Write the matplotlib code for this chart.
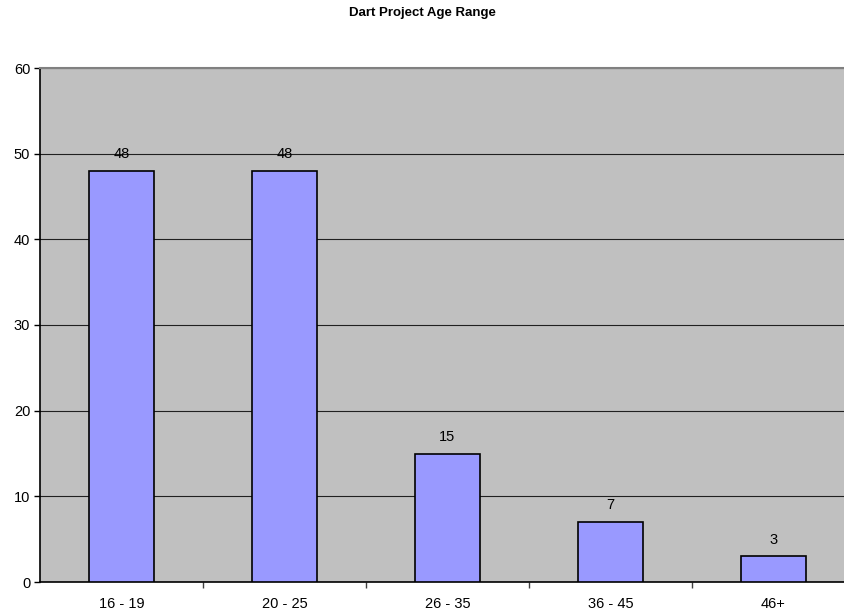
import matplotlib.pyplot as plt

plt.rcParams["font.family"] = ["Liberation Sans", "DejaVu Sans"]

# Daten
categories = ["16 - 19", "20 - 25", "26 - 35", "36 - 45", "46+"]
counts = [48, 48, 15, 7, 3]

W, H = 845, 615
fig = plt.figure(figsize=(W / 100, H / 100), dpi=100)
# plot area runs off the right edge, as in the original
ax = fig.add_axes([40 / W, 1 - 582 / H, 815 / W, (582 - 68) / H])
ax.set_facecolor("#C0C0C0")

x = list(range(len(categories)))
ax.bar(x, counts, width=0.4, color="#9999FF", edgecolor="black", linewidth=1.2, zorder=3)

for xi, v in zip(x, counts):
    ax.annotate(str(v), (xi, v), xytext=(0, 7), textcoords="offset points",
                ha="center", va="bottom", fontsize=10.5, zorder=4)

ax.set_xlim(-0.5, len(categories) - 0.5)
ax.set_ylim(0, 60)
ax.set_yticks(range(0, 61, 10))
ax.yaxis.grid(True, color="#202020", linewidth=0.8, zorder=1)

ax.set_xticks(x)
ax.set_xticklabels(categories, fontsize=10.5)
ax.set_xticks([i + 0.5 for i in x[:-1]], minor=True)
ax.tick_params(axis="x", which="major", length=0, pad=11)
ax.tick_params(axis="x", which="minor", length=4, width=1, color="#404040")
ax.tick_params(axis="y", length=4, width=1, labelsize=10.5, pad=3)

for side in ["left", "bottom"]:
    ax.spines[side].set_color("black")
    ax.spines[side].set_linewidth(1.2)
ax.spines["top"].set_color("#808080")
ax.spines["top"].set_linewidth(1.5)
ax.spines["right"].set_visible(False)

fig.text(0.5, 1 - 13 / H, "Dart Project Age Range", ha="center", va="center",
         fontsize=9.5, fontweight="bold")

fig.savefig("out.png", dpi=100)
